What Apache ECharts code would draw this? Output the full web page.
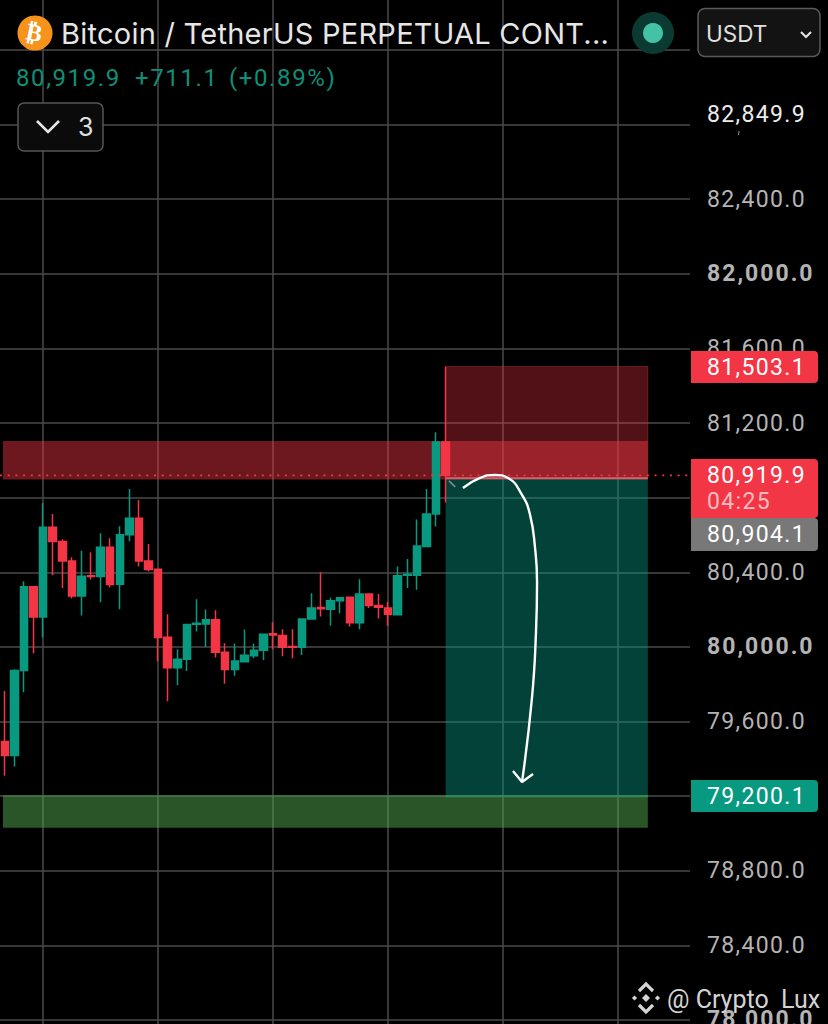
<!DOCTYPE html>
<html><head><meta charset="utf-8">
<style>html,body{margin:0;padding:0;background:#000}#c{width:828px;height:1024px}
#c text{white-space:pre}
#c text[style*="23px"]{letter-spacing:1.35px}
#c text[style*="700"]{letter-spacing:2px}
#c text[style*="24px"]{letter-spacing:1.6px}
#c text[style*="29px"]{letter-spacing:.25px}</style>
<script src="https://cdn.jsdelivr.net/npm/echarts@6/dist/echarts.min.js"></script>
</head><body><div id="c"></div>
<script>
// open, close, low, high
const candles = [
[79493,79418,79310,79764],[79418,79873,79359,79880],[79873,80323,79757,80352],[80323,80161,79966,80323],
[80161,80641,80050,80770],[80641,80565,80384,80713],[80565,80461,80316,80577],[80461,80273,80259,80481],
[80273,80379,80168,80515],[80382,80377,80361,80507],[80377,80534,80239,80609],[80534,80334,80318,80582],
[80336,80602,80202,80647],[80602,80690,80566,80847],[80690,80461,80431,80786],[80461,80415,80406,80552],
[80416,80050,79923,80416],[80052,79889,79709,80175],[79889,79934,79796,79987],[79934,80120,79871,80120],
[80121,80127,80082,80255],[80123,80145,80000,80200],[80145,79971,79943,80197],[79971,79879,79803,80020],
[79879,79925,79846,80018],[79921,79955,79918,80093],[79952,79982,79939,80018],[79982,80068,79930,80068],
[80071,80064,79987,80132],[80061,79998,79950,80095],[80002,79998,79939,80095],[79998,80150,79957,80150],
[80150,80209,80150,80288],[80211,80205,80163,80400],[80202,80248,80113,80263],[80248,80264,80180,80268],
[80266,80130,80109,80266],[80130,80284,80095,80363],[80284,80222,80209,80288],[80222,80213,80152,80284],
[80209,80175,80113,80241],[80173,80382,80173,80431],[80384,80390,80316,80472],[80384,80541,80307,80683],
[80538,80713,80538,80847],[80713,81099,80645,81151],[81099,80919.9,80774,81503]
];
const categories = Array.from({length:72},(_,i)=>String(i));
const hiddenTicks = [83600,83200,82800,80800,79200,77600];
const boldTicks = [82000,80000,78000];
const lastPrice = 80919.9;
const entryPrice = 80904.1;
const stopPrice = 81503.1;
const targetPrice = 79200.1;
const topQuote = '82,849.9';
// zones: bar start, bar end, low price, high price
const zoneBarStart = [0.31, 0.31, 46.5, 46.5];
const zoneBarEnd   = [67.6, 67.6, 67.6, 67.6];
const zoneLow      = [80898, 79030, 80904.1, 79200.1];
const zoneHigh     = [81104, 79205, 81503.1, 80904.1];
const arrowBars   = [48.31,50.09,51.65,53.01,54.47,55.31,55.83,56.04,55.93,55.51,54.47];
const arrowPrices = [80852,80906,80922,80906,80815,80708,80531,80348,80080,79727,79276];
const headBars    = [53.53,54.47,55.62];
const headPrices  = [79335,79276,79319];
const tagLabels = ['81,503.1','80,919.9','80,904.1','79,200.1'];
const tagPrices = [stopPrice,lastPrice,entryPrice,targetPrice];

const zoneFills = ['rgba(242,54,69,.45)','rgba(84,170,80,.5)','rgba(242,54,69,.33)','rgba(8,153,129,.43)'];
const zoneEdges = ['rgba(0,0,0,0)','rgba(0,0,0,0)','rgba(242,54,69,.35)','rgba(0,0,0,0)'];
const tagFills = ['#f23645','#f23645','#787878','#089981'];
const tagTop = [-16,-16,40,-16], tagH = [32,59,33,32];
const FONT = 'Roboto, Inter, sans-serif', TITLE='Inter, Roboto, sans-serif';
const GREEN='#089981', RED='#f23645';

const chart = echarts.init(document.getElementById('c'),null,{renderer:'svg'});
const mono = (x,y,t,fill,size,fam)=>({type:'text',x,y,style:{text:t,fill,font:`400 ${size}px ${fam||FONT}`,textVerticalAlign:'middle'},z:50,silent:true});
const diamond=(cx,cy,r)=>({type:'polygon',shape:{points:[[cx,cy-r],[cx+r,cy],[cx,cy+r],[cx-r,cy]]},style:{fill:'#d4d4d4'},z:50,silent:true});
const chevron=(cx,cy,dir)=>({type:'polyline',shape:{points:[[cx-7,cy],[cx,cy-dir*7],[cx+7,cy]]},style:{stroke:'#d4d4d4',lineWidth:3.2,fill:'none'},z:50,silent:true});

chart.setOption({
  backgroundColor:'#000',
  animation:false,
  grid:{left:0,width:690,top:-24.6,height:1119.2,containLabel:false,outerBoundsMode:'none'},
  xAxis:[
    {type:'category',data:categories,boundaryGap:true,axisLine:{show:false},axisTick:{show:false},axisLabel:{show:false},
     splitLine:{show:true,alignWithLabel:true,interval:(i)=>i%12===4,lineStyle:{color:'#4a4a4a',width:1.5}}},
    {type:'value',min:0,max:72,show:false,splitLine:{show:false}}
  ],
  yAxis:{type:'value',position:'right',min:77600,max:83600,interval:400,scale:true,
    axisLine:{show:false},axisTick:{show:false},
    splitLine:{show:true,lineStyle:{color:'#4a4a4a',width:1.5}},
    axisLabel:{margin:17,align:'left',fontFamily:FONT,fontSize:23,color:'#b4b4b4',
      formatter:v=>{
        if(hiddenTicks.includes(v))return '';
        const s=v.toLocaleString('en-US',{minimumFractionDigits:1,maximumFractionDigits:1});
        return boldTicks.includes(v)?`{b|${s}}`:s;
      },
      rich:{b:{fontFamily:FONT,fontSize:23,fontWeight:700,color:'#b4b4b4'}}}
  },
  series:[
    {type:'custom',xAxisIndex:1,z:1,silent:true,clip:false,
     data:zoneBarStart.map((s,i)=>[s,zoneBarEnd[i],zoneLow[i],zoneHigh[i],i]),
     encode:{x:[0,1],y:[2,3]},
     renderItem:(p,api)=>{
       const a=api.coord([api.value(0),api.value(3)]),b=api.coord([api.value(1),api.value(2)]),i=api.value(4);
       return {type:'rect',shape:{x:a[0],y:a[1],width:b[0]-a[0],height:b[1]-a[1]},style:{fill:zoneFills[i],stroke:zoneEdges[i],lineWidth:1}};
     }},
    {type:'line',xAxisIndex:1,z:1,silent:true,symbol:'none',data:[[zoneBarStart[3],targetPrice],[zoneBarEnd[3],targetPrice]],
     lineStyle:{color:'#35885a',width:2}},
    {type:'line',xAxisIndex:1,z:1,silent:true,symbol:'none',data:[[zoneBarStart[3],entryPrice],[zoneBarEnd[3],entryPrice]],
     lineStyle:{color:'#d8606c',width:2}},
    {type:'candlestick',z:2,barWidth:8,silent:true,data:candles,
     itemStyle:{color:GREEN,color0:RED,borderColor:GREEN,borderColor0:RED,borderWidth:1.5}},
    {type:'line',xAxisIndex:1,z:3,silent:true,symbol:'none',data:[[0,lastPrice],[72,lastPrice]],
     lineStyle:{color:RED,width:1.6,type:[2,5.7]}},
    {type:'line',xAxisIndex:1,z:3,silent:true,symbol:'none',data:[[46.85,80890],[47.5,80858]],
     lineStyle:{color:'#8a8a8a',width:1.5}},
    {type:'line',xAxisIndex:1,z:4,silent:true,symbol:'none',smooth:0.5,data:arrowBars.map((b,i)=>[b,arrowPrices[i]]),
     lineStyle:{color:'#fff',width:2.4}},
    {type:'line',xAxisIndex:1,z:4,silent:true,symbol:'none',data:headBars.map((b,i)=>[b,headPrices[i]]),
     lineStyle:{color:'#fff',width:2.4}},
    {type:'custom',xAxisIndex:1,z:6,silent:true,clip:false,
     data:tagPrices.map((p,i)=>[0,p,i]),encode:{y:1},
     renderItem:(p,api)=>{
       const i=api.value(2),y=Math.round(api.coord([0,api.value(1)])[1]);
       const top=y+tagTop[i],textY=top+tagH[i]/2;
       const children=[{type:'rect',shape:{x:691,y:top,width:127,height:tagH[i],r:[0,4,4,0]},style:{fill:tagFills[i]}}];
       if(i===1){
         children.push({type:'text',style:{x:707,y:y,text:tagLabels[i],fill:'#fff',font:`400 23px ${FONT}`,textVerticalAlign:'middle'}});
         children.push({type:'text',style:{x:707,y:y+26,text:'04:25',fill:'#f7bcc2',font:`400 23px ${FONT}`,textVerticalAlign:'middle'}});
       } else {
         children.push({type:'text',style:{x:707,y:textY,text:tagLabels[i],fill:'#fff',font:`400 23px ${FONT}`,textVerticalAlign:'middle'}});
       }
       return {type:'group',children};
     }}
  ],
  graphic:[
    {type:'circle',shape:{cx:35,cy:33,r:17.5},style:{fill:'#f7931a'},z:50,silent:true},
    {type:'text',x:35,y:33,rotation:-0.2,originX:0,originY:0,style:{text:'₿',fill:'#fff',font:'700 24px "DejaVu Sans"',textAlign:'center',textVerticalAlign:'middle'},z:51,silent:true},
    mono(61,33,'Bitcoin / TetherUS PERPETUAL CONT...','#e6e6e6',29,TITLE),
    {type:'circle',shape:{cx:653,cy:33,r:21},style:{fill:'#0b3a33'},z:50,silent:true},
    {type:'circle',shape:{cx:653,cy:33,r:10},style:{fill:'#43c2a6'},z:51,silent:true},
    {type:'rect',shape:{x:698,y:8.5,width:122,height:48,r:7},style:{fill:'#131313',stroke:'#5a5a5a',lineWidth:1.5},z:50,silent:true},
    mono(706,33,'USDT','#e0e0e0',22.5,TITLE),
    {type:'polyline',shape:{points:[[801,32],[806,37],[811,32]]},style:{stroke:'#e0e0e0',lineWidth:2.2,fill:'none'},z:51,silent:true},
    mono(16,78,'80,919.9','#0f8f77',24),
    mono(135,78,'+711.1','#0f8f77',24),
    mono(229,78,'(+0.89%)','#0f8f77',24),
    {type:'rect',shape:{x:18,y:103,width:85,height:48,r:6},style:{fill:'#0b0b0b',stroke:'#555',lineWidth:1.5},z:50,silent:true},
    {type:'polyline',shape:{points:[[37,121],[48,132],[59,121]]},style:{stroke:'#e6e6e6',lineWidth:2.6,fill:'none'},z:51,silent:true},
    mono(78,127,'3','#e0e0e0',25,TITLE),
    mono(707,114,topQuote,'#ececec',23),
    {type:'line',shape:{x1:739,y1:131,x2:738.5,y2:135},style:{stroke:'#999',lineWidth:1},z:50,silent:true},
    diamond(646,998,4), diamond(634.5,998,2.6), diamond(657.5,998,2.6),
    chevron(646,991,1), chevron(646,1005,-1),
    mono(667,999,'@ Crypto  Lux','#d4d4d4',25)
  ]
});
</script></body></html>
